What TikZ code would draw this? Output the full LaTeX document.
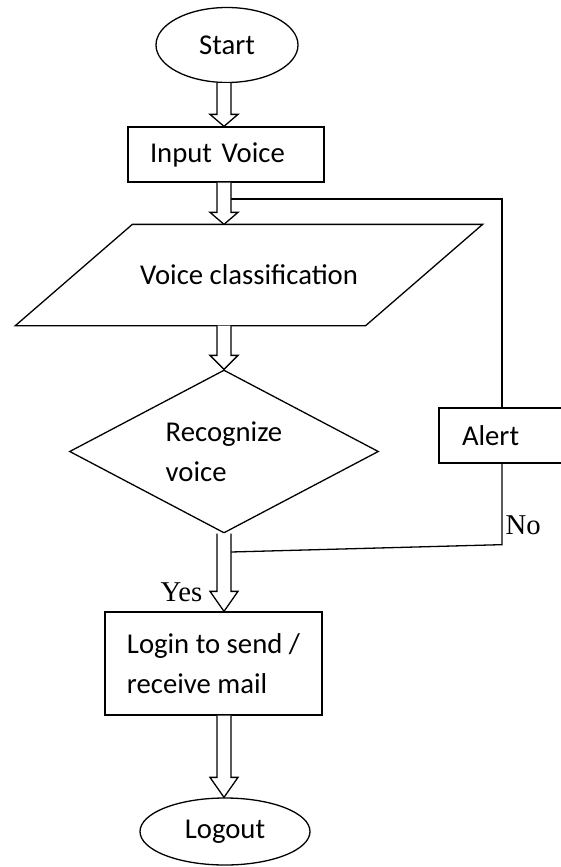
\documentclass[tikz,border=0pt]{standalone}
\usepackage{fontspec}
\setmainfont{Carlito}
\newfontfamily\labelfont{Liberation Serif}
\usetikzlibrary{shapes.geometric, calc}

\begin{document}
\begin{tikzpicture}[
    x=1pt, y=-1pt,
    line width=1.3pt,
    every node/.style={font=\fontsize{28.7}{40}\selectfont},
    startstop/.style={ellipse, draw, inner sep=0pt},
    process/.style={rectangle, draw, align=left, inner ysep=0pt},
    io/.style={rectangle, minimum width=349pt, minimum height=100pt, inner sep=0pt},
    decision/.style={diamond, draw, align=left, aspect=1.9, minimum width=309pt, minimum height=163pt, inner sep=0pt},
    yesno/.style={font=\labelfont\fontsize{28.7}{34}\selectfont, inner sep=0pt},
    blockarrow/.style={draw, fill=white, line join=miter,
        to path={let \p1=(\tikztostart), \p2=(\tikztotarget) in
            (\x1-7pt,\y1) -- (\x1-7pt,\y2+#1) -- (\x1-14pt,\y2+#1) -- (\x1,\y2)
            -- (\x1+14pt,\y2+#1) -- (\x1+7pt,\y2+#1) -- (\x1+7pt,\y1)}},
    blockarrow/.default=13pt,
]
\useasboundingbox (0,0) rectangle (560,867);

\coordinate (axis) at (224,0);

\node[startstop, minimum width=142pt, minimum height=75pt] (start) at (227,45) {Start};
\node[process, text width=152pt, inner xsep=22pt, minimum height=55pt] (input) at (226,154.5) {Input Voice};
\node[io] (classify) at (249,275) {Voice classification};
\node[decision] (recog) at (224,451.5) {Recognize\\voice};
\node[process, text width=110pt, inner xsep=23pt, minimum height=55pt] (alert) at (517,435.5) {Alert};
\node[process, minimum width=217pt, minimum height=103pt] (login) at (213.5,663.5) {Login to send /\\receive mail};
\node[startstop, minimum width=170pt, minimum height=67pt] (logout) at (225,831.5) {Logout};

\node[yesno, anchor=base east] (yes) at (203,601) {Yes};
\node[yesno, anchor=base west] (no) at (505,534.5) {No};

% slanted input box round the classification text
\draw ([xshift=58.5pt]classify.north west) -- ([xshift=58.5pt]classify.north east)
   -- ([xshift=-58.5pt]classify.south east) -- ([xshift=-58.5pt]classify.south west) -- cycle;

% feedback loop through the alert box
\coordinate (join1) at (231,199);
\coordinate (join2) at (231,552);
\coordinate (loop) at (502,0);
\draw (loop |- alert.north) |- (join1);
\draw (loop |- alert.south) -- ++(0,81) -- (join2);

\draw[blockarrow=12pt] (axis |- start.south) to (axis |- input.north);
\draw[blockarrow=12pt] (axis |- input.south) to (axis |- classify.north);
\draw[blockarrow=14pt] (axis |- classify.south) to (axis |- recog.north);
\draw[blockarrow=20pt] (axis |- recog.south) to (axis |- login.north);
\draw[blockarrow=20pt] (axis |- login.south) to (axis |- logout.north);

\end{tikzpicture}
\end{document}
